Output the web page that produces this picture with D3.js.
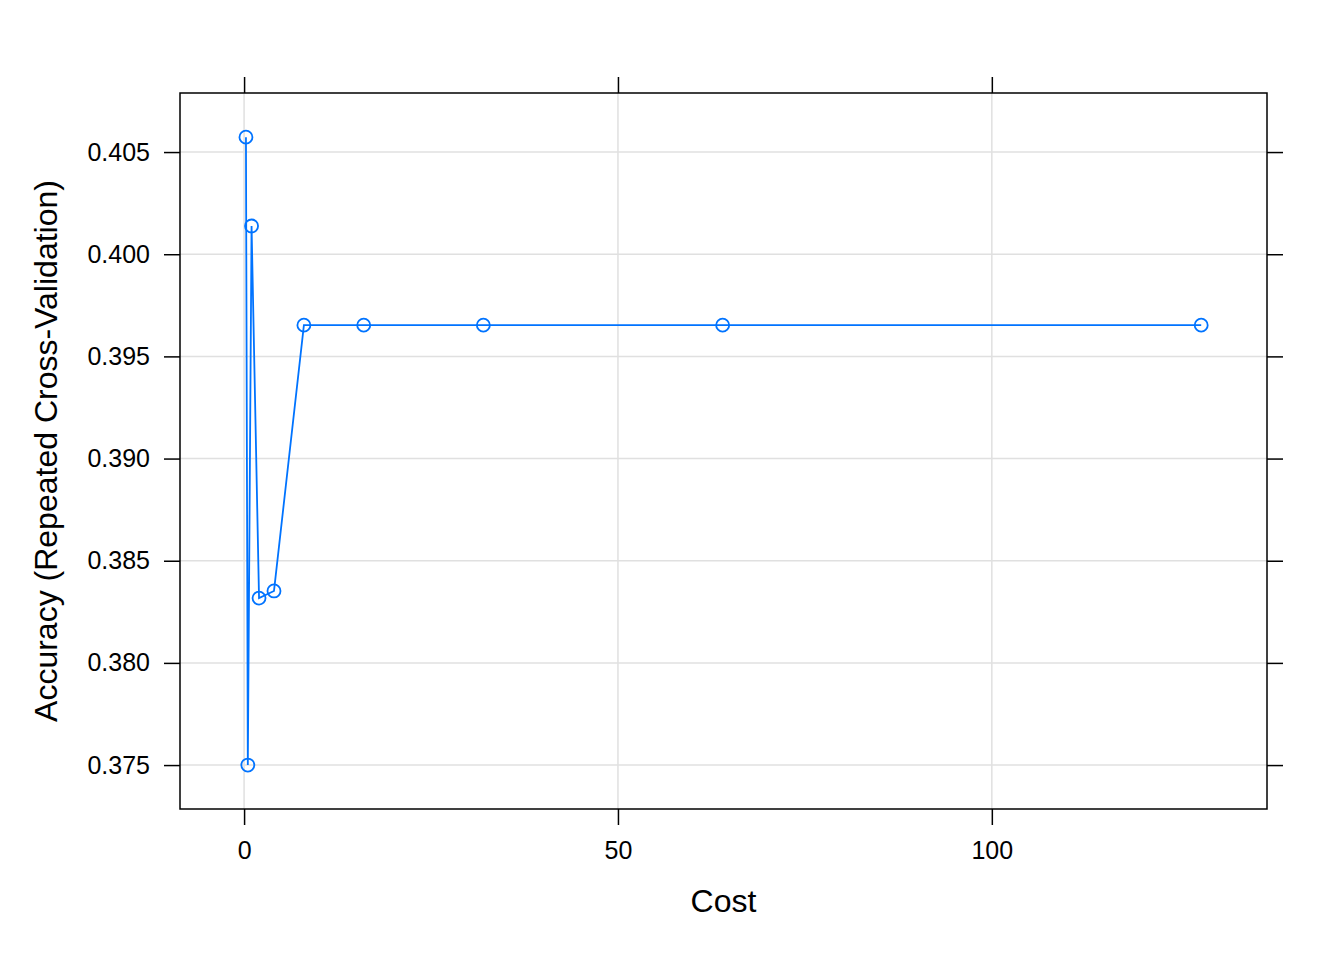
<!DOCTYPE html>
<html><head><meta charset="utf-8">
<script src="https://cdn.jsdelivr.net/npm/d3@7"></script>
<style>body{margin:0;background:#fff}svg{display:block}text{font-family:"Liberation Sans",Arial,sans-serif}</style>
</head><body>
<script>
const cost = [0.25, 0.5, 1, 2, 4, 8, 16, 32, 64, 128];
const accuracy = [0.40573, 0.37500, 0.40138, 0.38317, 0.38352, 0.39653, 0.39653, 0.39653, 0.39653, 0.39653];
const xTicks = [0, 50, 100];
const yTicks = [0.375, 0.380, 0.385, 0.390, 0.395, 0.400, 0.405];
const xLabel = "Cost";
const yLabel = "Accuracy (Repeated Cross-Validation)";

const W = 1344, H = 960;
const L = 180, R = 1267, T = 93, B = 809;
const svg = d3.select("body").append("svg").attr("width", W).attr("height", H);
const x = d3.scaleLinear().domain([-8.57, 136.8]).range([L, R]);
const y = d3.scaleLinear().domain([0.37285, 0.40789]).range([B, T]);

// grid
svg.append("g").selectAll("line").data(xTicks).join("line")
  .attr("x1", d => x(d)).attr("x2", d => x(d)).attr("y1", T).attr("y2", B)
  .attr("stroke", "#e0e0e0").attr("stroke-width", 1.5);
svg.append("g").selectAll("line").data(yTicks).join("line")
  .attr("y1", d => y(d)).attr("y2", d => y(d)).attr("x1", L).attr("x2", R)
  .attr("stroke", "#e0e0e0").attr("stroke-width", 1.5);

// axes
const fmtY = d3.format(".3f");
function styleAxis(g, labels) {
  g.select(".domain").remove();
  g.selectAll(".tick line").attr("stroke", "#000").attr("stroke-width", 1.5);
  g.selectAll(".tick text").attr("font-size", 25).attr("fill", "#000");
  if (!labels) g.selectAll(".tick text").remove();
}
svg.append("g").attr("transform", `translate(0,${B})`)
  .call(d3.axisBottom(x).tickValues(xTicks).tickSize(16).tickPadding(16).tickFormat(d3.format("d")))
  .call(g => styleAxis(g, true));
svg.append("g").attr("transform", `translate(0,${T})`)
  .call(d3.axisTop(x).tickValues(xTicks).tickSize(16))
  .call(g => styleAxis(g, false));
svg.append("g").attr("transform", `translate(${L},0)`)
  .call(d3.axisLeft(y).tickValues(yTicks).tickSize(16).tickPadding(14).tickFormat(fmtY))
  .call(g => styleAxis(g, true));
svg.append("g").attr("transform", `translate(${R},0)`)
  .call(d3.axisRight(y).tickValues(yTicks).tickSize(16))
  .call(g => styleAxis(g, false));

// panel border
svg.append("rect").attr("x", L).attr("y", T).attr("width", R - L).attr("height", B - T)
  .attr("fill", "none").attr("stroke", "#000").attr("stroke-width", 1.5);

// data
const data = cost.map((c, i) => ({c, a: accuracy[i]}));
svg.append("path").datum(data)
  .attr("d", d3.line().x(d => x(d.c)).y(d => y(d.a)))
  .attr("fill", "none").attr("stroke", "#0073ff").attr("stroke-width", 1.8);
svg.append("g").selectAll("circle").data(data).join("circle")
  .attr("cx", d => x(d.c)).attr("cy", d => y(d.a)).attr("r", 6.5)
  .attr("fill", "none").attr("stroke", "#0073ff").attr("stroke-width", 1.8);

// labels
svg.append("text").attr("x", (L + R) / 2).attr("y", 912).attr("text-anchor", "middle")
  .attr("font-size", 32).text(xLabel);
svg.append("text").attr("transform", `translate(57,${(T + B) / 2}) rotate(-90)`)
  .attr("text-anchor", "middle").attr("font-size", 32).text(yLabel);
</script>
</body></html>
